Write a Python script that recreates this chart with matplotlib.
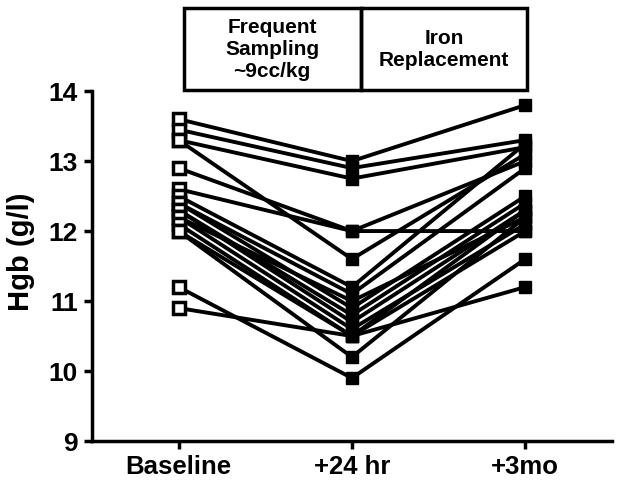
"""Hgb antes y despues del muestreo frecuente y la reposicion de hierro."""

import matplotlib
matplotlib.use('Agg')
import matplotlib.pyplot as plt
from matplotlib.patches import Rectangle
import numpy as np

# Valores (un sujeto por posicion)
momentos = ['Baseline', '+24 hr', '+3mo']
basal = [13.6, 13.45, 13.3, 13.3, 12.9, 12.6, 12.5, 12.4, 12.4, 12.3,
         12.3, 12.2, 12.2, 12.1, 12.0, 12.0, 11.2, 10.9]
h24 = [13.0, 12.9, 12.75, 11.6, 12.0, 12.0, 11.2, 11.1, 10.9, 10.8,
       10.7, 11.0, 10.6, 10.5, 10.2, 10.5, 9.9, 10.5]
mes3 = [13.8, 13.3, 13.2, 13.1, 12.0, 13.0, 13.25, 12.9, 12.5, 12.4,
        12.3, 12.2, 12.1, 12.3, 12.2, 12.0, 11.6, 11.2]
y_ticks = [9, 10, 11, 12, 13, 14]
cajas = [('Frequent\nSampling\n~9cc/kg', 0.03, 1.05),
         ('Iron\nReplacement', 1.05, 2.01)]

plt.rcParams['font.family'] = ['Liberation Sans', 'DejaVu Sans']
plt.rcParams['font.weight'] = 'bold'

fig = plt.figure(figsize=(6.29, 4.88), dpi=100)
ax = fig.add_axes([0.146, 0.0963, 0.827, 0.717])

x = np.arange(len(momentos))
datos = np.array([basal, h24, mes3]).T
for fila in datos:
    ax.plot(x, fila, color='black', lw=2.8, zorder=2)
ax.plot(np.zeros(len(basal)), basal, 's', ms=8.5, mfc='white', mec='black',
        mew=2.5, zorder=3)
ax.plot(np.full(len(h24), 1), h24, 's', ms=9, color='black', zorder=3)
ax.plot(np.full(len(mes3), 2), mes3, 's', ms=9, color='black', zorder=3)

ax.set_xlim(-0.5, 2.5)
ax.set_ylim(9, 14)
ax.set_xticks(x, momentos)
ax.set_yticks(y_ticks)
ax.set_ylabel('Hgb (g/l)', fontsize=21, fontweight='bold')
ax.yaxis.set_label_coords(-0.11, 0.54)
ax.tick_params(width=2.5, length=6, pad=4)
ax.tick_params(axis='x', labelsize=18.5)
ax.tick_params(axis='y', labelsize=19)
for lbl in ax.get_xticklabels() + ax.get_yticklabels():
    lbl.set_fontweight('bold')
for lado in ('top', 'right'):
    ax.spines[lado].set_visible(False)
for lado in ('left', 'bottom'):
    ax.spines[lado].set_linewidth(2.5)

# cajas de texto sobre el grafico
trans = ax.get_xaxis_transform()
for texto, x0, x1 in cajas:
    ax.add_patch(Rectangle((x0, 1.003), x1 - x0, 0.234, transform=trans,
                           fill=False, lw=2.5, ec='black', clip_on=False))
    ax.text((x0 + x1) / 2, 1.118, texto, transform=trans, ha='center',
            va='center', fontsize=15, fontweight='bold', linespacing=1.2)

fig.savefig('out.png', dpi=100)
